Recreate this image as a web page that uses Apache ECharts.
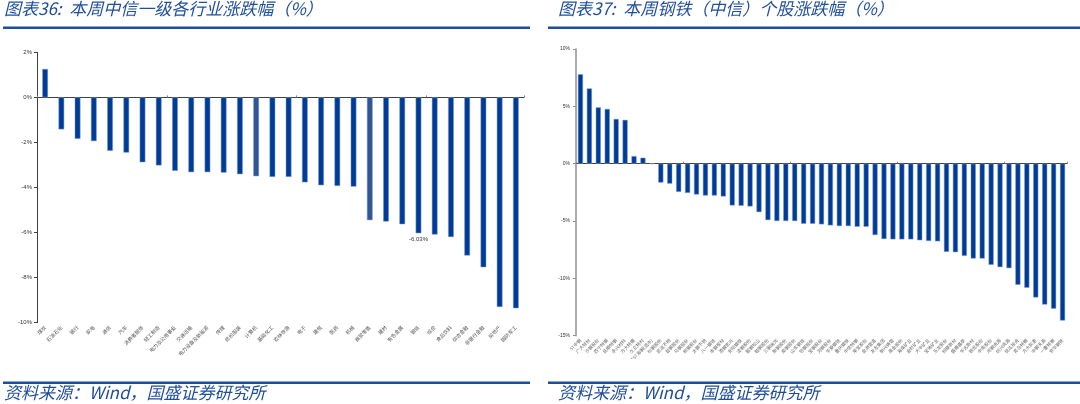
<!DOCTYPE html>
<html><head><meta charset="utf-8">
<script src="https://cdn.jsdelivr.net/npm/echarts@6/dist/echarts.min.js"></script>
<style>html,body{margin:0;padding:0;background:#fff}#c{width:1080px;height:404px}</style>
</head><body><div id="c"></div>
<script>
// ---- Left chart: CITIC level-1 industries weekly change (%) ----
var industries = ['煤炭','石油石化','银行','家电','通信','汽车','消费者服务','轻工制造','电力及公用事业','交通运输','电力设备及新能源','传媒','纺织服装','计算机','基础化工','农林牧渔','电子','建筑','医药','机械','商贸零售','建材','有色金属','钢铁','综合','食品饮料','综合金融','非银行金融','房地产','国防军工'];
var industryChange = [1.26,-1.42,-1.84,-1.94,-2.37,-2.45,-2.88,-3.02,-3.26,-3.32,-3.32,-3.34,-3.41,-3.50,-3.53,-3.53,-3.77,-3.90,-3.93,-3.96,-5.45,-5.51,-5.63,-6.03,-6.09,-6.20,-7.02,-7.54,-9.30,-9.36];
var highlighted = ['计算机','商贸零售'];
var labelled = ['钢铁'];
var leftTicks = {min:-10, max:2, interval:2};

// ---- Right chart: steel (CITIC) stocks weekly change (%) ----
var stocks = ['ST中钢','广大特材','沙钢股份','西宁特钢','抚顺特钢','永兴材料','方大特钢','久立特材','*ST海钢(退市)','杭钢股份','武进不锈','首钢股份','马钢股份','柳钢股份','太钢不锈','八一钢铁','本钢板材','酒钢宏兴','安阳钢铁','凌钢股份','韶钢松山','鞍钢股份','三钢闽光','新钢股份','南钢股份','山东钢铁','包钢股份','宝钢股份','河钢股份','华菱钢铁','重庆钢铁','中信特钢','常宝股份','金洲管道','友发集团','新兴铸管','甬金股份','海南矿业','金岭矿业','大中矿业','宝地矿业','玉龙股份','翔楼新材','盛德鑫泰','华达新材','银龙股份','中南股份','河钢资源','创兴资源','悦达投资','青岛特钢','方大炭素','中钢天源','一重特钢','京华钢铁'];
var stockChange = [7.80,6.56,4.91,4.77,3.90,3.82,0.66,0.52,0,-1.65,-1.74,-2.46,-2.55,-2.69,-2.78,-2.78,-2.86,-3.64,-3.67,-3.73,-4.22,-4.92,-5.00,-5.00,-5.00,-5.24,-5.24,-5.29,-5.38,-5.44,-5.44,-5.50,-5.50,-6.22,-6.57,-6.60,-6.60,-6.60,-6.68,-6.74,-6.77,-7.69,-7.72,-8.04,-8.27,-8.27,-8.82,-9.02,-9.11,-10.56,-10.82,-11.66,-12.29,-12.64,-13.68];
var rightTicks = {min:-15, max:10, interval:5};

var titleLeft = '图表36:  本周中信一级各行业涨跌幅（%）';
var titleRight = '图表37:  本周钢铁（中信）个股涨跌幅（%）';
var sourceText = '资料来源：Wind，国盛证券研究所';

var BLUE = '#003C96', HL = '#2F5597', TITLE = '#1F4E9B';
var cjk = '"Noto Sans CJK SC", sans-serif';

var chart = echarts.init(document.getElementById('c'), null, {renderer:'canvas'});

function pct(v){ return v + '%'; }
var tStyle = {fontSize:17, fontStyle:'italic', fontWeight:'normal', color:TITLE, fontFamily:cjk};
var sStyle = {fontSize:17, fontStyle:'italic', fontWeight:'normal', color:TITLE, fontFamily:cjk};

var option = {
  backgroundColor:'#fff',
  animation:false,
  title:[
    {text:titleLeft, left:4, top:0, padding:0, textStyle:tStyle},
    {text:titleRight, left:558, top:0, padding:0, textStyle:tStyle},
    {text:sourceText, left:4, top:384, padding:0, textStyle:sStyle},
    {text:sourceText, left:558, top:384, padding:0, textStyle:sStyle}
  ],
  graphic:[
    {type:'rect', shape:{x:3,y:26.5,width:527,height:2.5}, style:{fill:TITLE}, silent:true},
    {type:'rect', shape:{x:548,y:26.5,width:532,height:2.5}, style:{fill:TITLE}, silent:true},
    {type:'rect', shape:{x:3,y:381.5,width:527,height:2.5}, style:{fill:TITLE}, silent:true},
    {type:'rect', shape:{x:548,y:381.5,width:532,height:2.5}, style:{fill:TITLE}, silent:true}
  ],
  grid:[
    {left:37, top:52.3, width:487, height:270.4, containLabel:false},
    {left:576, top:49, width:491, height:286.7, containLabel:false}
  ],
  xAxis:[
    {gridIndex:0, type:'category', data:industries, position:'bottom',
     axisLine:{show:false, onZero:false}, axisTick:{show:false},
     axisLabel:{interval:0, rotate:45, fontSize:5, color:'#555', margin:4, fontFamily:cjk}},
    {gridIndex:0, type:'category', data:industries, position:'bottom',
     axisLine:{show:true, onZero:true, lineStyle:{color:'#404040', width:1}},
     axisTick:{show:true, inside:true, length:2, lineStyle:{color:'#888'}}, axisLabel:{show:false}},
    {gridIndex:1, type:'category', data:stocks, position:'bottom',
     axisLine:{show:false, onZero:false}, axisTick:{show:false},
     axisLabel:{interval:0, rotate:45, fontSize:4.5, color:'#666', margin:4, fontFamily:cjk}},
    {gridIndex:1, type:'category', data:stocks, position:'bottom',
     axisLine:{show:true, onZero:true, lineStyle:{color:'#404040', width:1}},
     axisTick:{show:true, inside:true, length:2, lineStyle:{color:'#888'}}, axisLabel:{show:false}}
  ],
  yAxis:[
    {gridIndex:0, type:'value', min:leftTicks.min, max:leftTicks.max, interval:leftTicks.interval,
     axisLine:{show:true, lineStyle:{color:'#404040', width:1}},
     axisTick:{show:true, length:3, lineStyle:{color:'#404040'}},
     axisLabel:{formatter:pct, fontSize:6, color:'#333', margin:5},
     splitLine:{show:false}},
    {gridIndex:1, type:'value', min:rightTicks.min, max:rightTicks.max, interval:rightTicks.interval,
     axisLine:{show:true, lineStyle:{color:'#909090', width:1.5}},
     axisTick:{show:true, length:3, lineStyle:{color:'#909090'}},
     axisLabel:{formatter:pct, fontSize:5, color:'#333', margin:6},
     splitLine:{show:false}}
  ],
  series:[
    {type:'bar', xAxisIndex:0, yAxisIndex:0, barWidth:'35%',
     data:industries.map(function(n,i){
       var d = {value:industryChange[i]};
       if (highlighted.indexOf(n) >= 0) d.itemStyle = {color:HL};
       if (labelled.indexOf(n) >= 0) d.label = {show:true, position:'bottom', formatter:'{c}%', fontSize:6, color:'#333', distance:3};
       return d;
     }),
     itemStyle:{color:BLUE, borderColor:'#7f9fd3', borderWidth:0.5}},
    {type:'bar', xAxisIndex:2, yAxisIndex:1, barWidth:'57%',
     data:stockChange,
     itemStyle:{color:BLUE, borderColor:'#7f9fd3', borderWidth:0.5}}
  ]
};
chart.setOption(option);
</script></body></html>
